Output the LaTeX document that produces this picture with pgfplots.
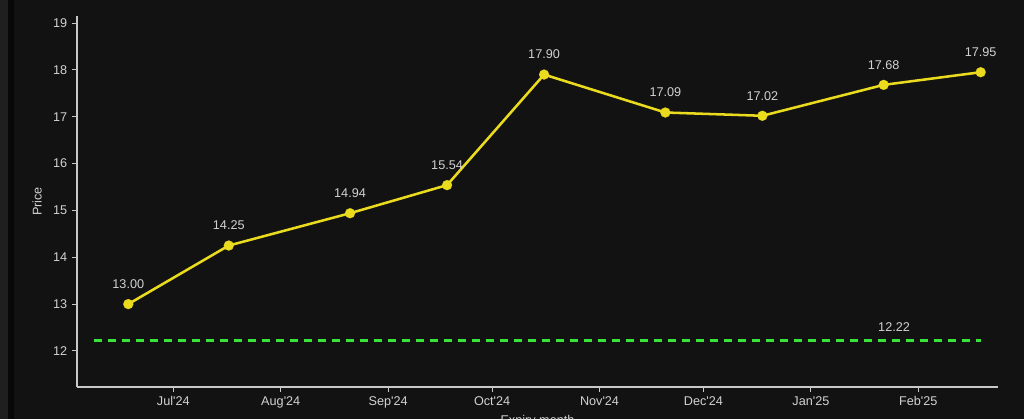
\documentclass[border=0pt]{standalone}
\usepackage{fontspec}
\setmainfont{Liberation Sans}
\usepackage{pgfplots}
\pgfplotsset{compat=1.18}

\definecolor{bg}{HTML}{121212}
\definecolor{axisgray}{HTML}{C8C8C8}
\definecolor{txtgray}{HTML}{D2D2D2}
\definecolor{futyellow}{HTML}{EBDB1E}
\definecolor{spotgreen}{HTML}{38E43A}
\newcommand{\q}{\textquotesingle}

\begin{document}
\begin{tikzpicture}
% page = 1024 x 419 px, 1px = 0.75pt
\clip (0,0) rectangle (768pt,314.25pt);
\fill[bg] (0,0) rectangle (768pt,314.25pt);
\fill[black!88] (0,0) rectangle (6pt,314.25pt);
\fill[black!97] (6pt,0) rectangle (10.5pt,314.25pt);
\begin{axis}[
    at={(57.75pt,24pt)}, anchor=south west,
    scale only axis, width=690.75pt, height=278.25pt,
    xmin=-27.8, xmax=238, ymin=11.23, ymax=19.15,
    axis lines*=left,
    axis line style={axisgray, line width=0.8pt, -},
    tick style={axisgray, line width=0.8pt},
    tick align=outside, major tick length=3.75pt,
    xtick={0,31,62,92,123,153,184,215},
    xticklabels={Jul\q24,Aug\q24,Sep\q24,Oct\q24,Nov\q24,Dec\q24,Jan\q25,Feb\q25},
    ytick={12,13,14,15,16,17,18,19},
    ticklabel style={font=\fontsize{9.5}{11}\selectfont, text=txtgray},
    /pgf/number format/assume math mode=true,
    ylabel={Price},
    ylabel style={at={(axis description cs:-0.0434,0.5)}, anchor=center, rotate=0,
        font=\fontsize{9.5}{11}\selectfont, text=txtgray},
    xlabel={Expiry month},
    xlabel style={at={(axis description cs:0.5,-0.0755)}, anchor=north, inner sep=0pt,
        font=\fontsize{9.5}{11}\selectfont, text=txtgray},
    clip=false,
]
\addplot[spotgreen, line width=2.25pt, dash pattern=on 6pt off 4.5pt] coordinates {
    (-23,12.22) (233,12.22)
};
\addplot[draw=none, mark=none, nodes near coords,
    every node near coord/.append style={anchor=center, yshift=10.5pt,
        font=\fontsize{9.5}{11}\selectfont, text=txtgray,
        /pgf/number format/.cd, fixed, fixed zerofill, precision=2, assume math mode=true}]
    coordinates {(208,12.22)};
\addplot[futyellow, line width=1.9pt, mark=*, mark size=3.75pt,
    mark options={fill=futyellow, draw=futyellow, line width=0.1pt},
    nodes near coords,
    every node near coord/.append style={anchor=center, yshift=15pt,
        font=\fontsize{9.5}{11}\selectfont, text=txtgray,
        /pgf/number format/.cd, fixed, fixed zerofill, precision=2, assume math mode=true}]
coordinates {
    (-13,13.00)
    (16,14.25)
    (51,14.94)
    (79,15.54)
    (107,17.90)
    (142,17.09)
    (170,17.02)
    (205,17.68)
    (233,17.95)
};
\end{axis}
\end{tikzpicture}
\end{document}
